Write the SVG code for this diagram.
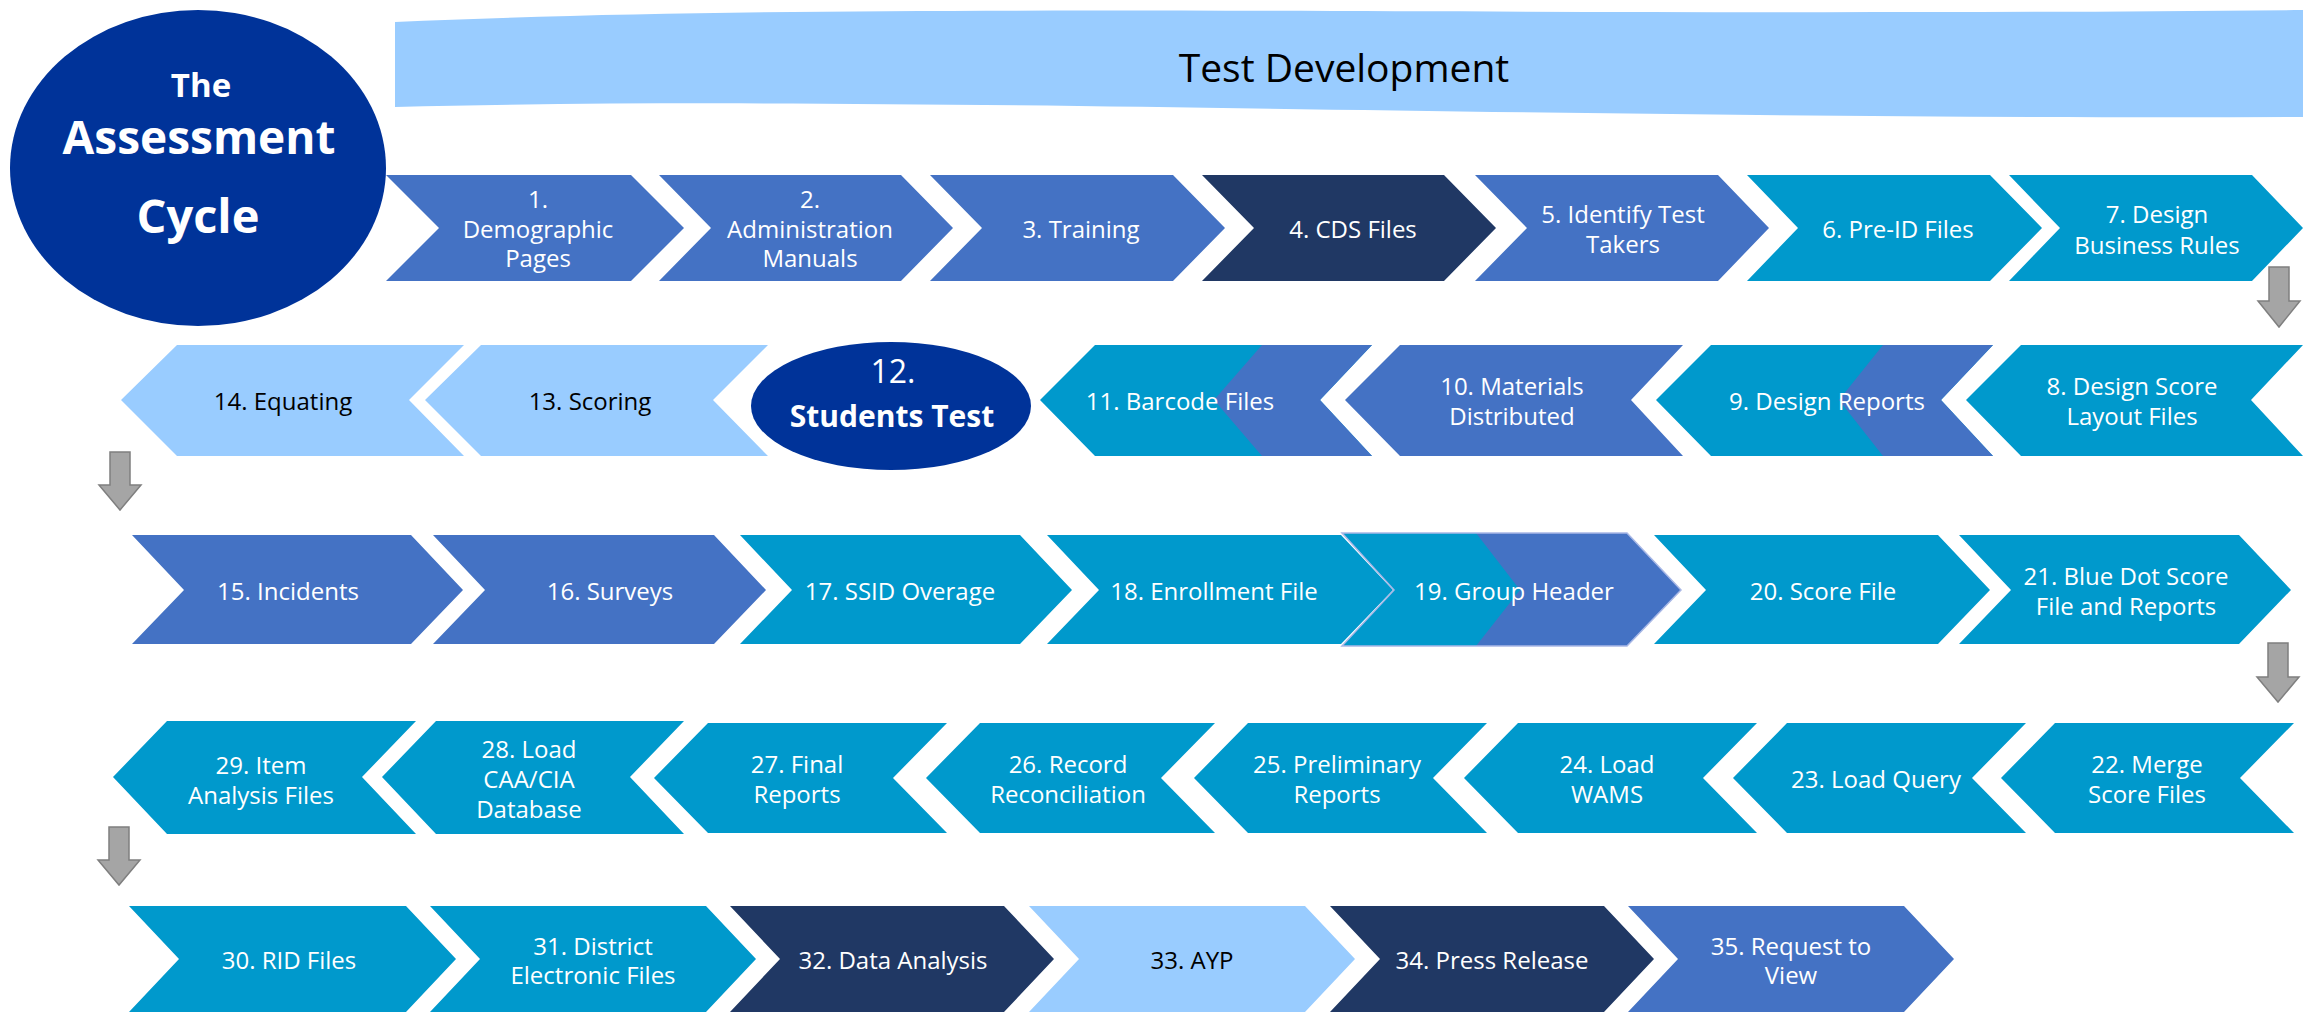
<svg xmlns="http://www.w3.org/2000/svg" width="2303" height="1014" viewBox="0 0 2303 1014">
<style>
.blue{fill:#4472C4}
.teal{fill:#0099CC}
.navy{fill:#203864}
.light{fill:#99CCFF}
.circ{fill:#003399}
.t{font-family:"Open Sans","Noto Sans","DejaVu Sans",sans-serif;font-size:24px;text-anchor:middle;dominant-baseline:central;fill:#FFFFFF}
.dk{fill:#000000}
.title{font-family:"Open Sans","Noto Sans","DejaVu Sans",sans-serif;font-weight:bold;text-anchor:middle;fill:#FFFFFF}
.arrow{fill:#A5A5A5;stroke:#7F7F7F;stroke-width:1.5}
</style>
<rect width="2303" height="1014" fill="#FFFFFF"/>

<g id="banner">
<path class="light" d="M395,22 C900,0 1500,18 2303,10 L2303,117 C1500,120 900,94 395,107 Z"/>
<text x="1344" y="66" style="font-family:'Open Sans','Noto Sans',sans-serif;font-size:39px;text-anchor:middle;dominant-baseline:central;fill:#000">Test Development</text>
</g>

<g id="title">
<ellipse class="circ" cx="198" cy="168" rx="188" ry="158"/>
<text class="title" x="201" y="97" font-size="33">The</text>
<text class="title" x="199" y="154" font-size="46">Assessment</text>
<text class="title" x="198" y="233" font-size="47">Cycle</text>
</g>

<!-- Row 1 -->
<g id="n1"><polygon class="blue" points="386,175 631,175 684,228 631,281 386,281 439,228"/>
<text class="t"><tspan x="538" y="198">1.</tspan><tspan x="538" y="228">Demographic</tspan><tspan x="538" y="257">Pages</tspan></text></g>
<g id="n2"><polygon class="blue" points="659,175 901,175 953,228 901,281 659,281 711,228"/>
<text class="t"><tspan x="810" y="198">2.</tspan><tspan x="810" y="228">Administration</tspan><tspan x="810" y="257">Manuals</tspan></text></g>
<g id="n3"><polygon class="blue" points="930,175 1173,175 1225,228 1173,281 930,281 982,228"/>
<text class="t" x="1081" y="228">3. Training</text></g>
<g id="n4"><polygon class="navy" points="1202,175 1444,175 1496,228 1444,281 1202,281 1254,228"/>
<text class="t" x="1353" y="228">4. CDS Files</text></g>
<g id="n5"><polygon class="blue" points="1475,175 1718,175 1769,228 1718,281 1475,281 1527,228"/>
<text class="t"><tspan x="1623" y="213">5. Identify Test</tspan><tspan x="1623" y="243">Takers</tspan></text></g>
<g id="n6"><polygon class="teal" points="1747,175 1990,175 2042,228 1990,281 1747,281 1798,228"/>
<text class="t" x="1898" y="228">6. Pre-ID Files</text></g>
<g id="n7"><polygon class="teal" points="2009,175 2252,175 2303,228 2252,281 2009,281 2060,228"/>
<text class="t"><tspan x="2157" y="213">7. Design</tspan><tspan x="2157" y="244">Business Rules</tspan></text></g>

<!-- Row 2 -->
<g id="n8"><polygon class="teal" points="2021,345 2303,345 2251,400 2303,456 2021,456 1966,400"/>
<text class="t"><tspan x="2132" y="385">8. Design Score</tspan><tspan x="2132" y="415">Layout Files</tspan></text></g>
<g id="n9"><polygon class="teal" points="1711,345 1993,345 1941,400 1993,456 1711,456 1656,400"/>
<polygon class="blue" points="1883,345 1993,345 1941,400 1993,456 1883,456 1839,400"/>
<text class="t" x="1827" y="400">9. Design Reports</text></g>
<g id="n10"><polygon class="blue" points="1400,345 1683,345 1631,400 1683,456 1400,456 1345,400"/>
<text class="t"><tspan x="1512" y="385">10. Materials</tspan><tspan x="1512" y="415">Distributed</tspan></text></g>
<g id="n11"><polygon class="teal" points="1095,345 1372,345 1320,400 1372,456 1095,456 1040,400"/>
<polygon class="blue" points="1262,345 1372,345 1320,400 1372,456 1262,456 1214,400"/>
<text class="t" x="1180" y="400">11. Barcode Files</text></g>
<g id="n12"><ellipse class="circ" cx="891" cy="406" rx="140" ry="64"/>
<text x="893" y="383" style="font-family:'Open Sans','Noto Sans',sans-serif;font-size:32px;text-anchor:middle;fill:#fff">12.</text>
<text class="title" x="892" y="427" font-size="30">Students Test</text></g>
<g id="n13"><polygon class="light" points="481,345 768,345 713,400 768,456 481,456 425,400"/>
<text class="t dk" x="590" y="400">13. Scoring</text></g>
<g id="n14"><polygon class="light" points="177,345 464,345 409,400 464,456 177,456 121,400"/>
<text class="t dk" x="283" y="400">14. Equating</text></g>

<!-- Row 3 -->
<g id="n15"><polygon class="blue" points="132,535 411,535 463,590 411,644 132,644 184,590"/>
<text class="t" x="288" y="590">15. Incidents</text></g>
<g id="n16"><polygon class="blue" points="433,535 714,535 766,590 714,644 433,644 485,590"/>
<text class="t" x="610" y="590">16. Surveys</text></g>
<g id="n17"><polygon class="teal" points="740,535 1020,535 1072,590 1020,644 740,644 792,590"/>
<text class="t" x="900" y="590">17. SSID Overage</text></g>
<g id="n18"><polygon class="teal" points="1047,535 1341,535 1393,590 1341,644 1047,644 1099,590"/>
<text class="t" x="1214" y="590">18. Enrollment File</text></g>
<g id="n19"><polygon class="teal" points="1342,533 1627,533 1681,590 1627,646 1342,646 1394,590"/>
<polygon class="blue" points="1476,533 1627,533 1681,590 1627,646 1476,646 1520,590"/>
<polygon points="1342,533 1627,533 1681,590 1627,646 1342,646 1394,590" fill="none" stroke="#A9B8E6" stroke-width="1.5"/>
<text class="t" x="1514" y="590">19. Group Header</text></g>
<g id="n20"><polygon class="teal" points="1654,535 1938,535 1990,590 1938,644 1654,644 1706,590"/>
<text class="t" x="1823" y="590">20. Score File</text></g>
<g id="n21"><polygon class="teal" points="1959,535 2239,535 2291,590 2239,644 1959,644 2011,590"/>
<text class="t"><tspan x="2126" y="575">21. Blue Dot Score</tspan><tspan x="2126" y="605">File and Reports</tspan></text></g>

<!-- Row 4 -->
<g id="n22"><polygon class="teal" points="2055,723 2294,723 2240,778 2294,833 2055,833 2001,778"/>
<text class="t"><tspan x="2147" y="763">22. Merge</tspan><tspan x="2147" y="793">Score Files</tspan></text></g>
<g id="n23"><polygon class="teal" points="1787,723 2026,723 1972,778 2026,833 1787,833 1733,778"/>
<text class="t" x="1876" y="778">23. Load Query</text></g>
<g id="n24"><polygon class="teal" points="1518,723 1757,723 1703,778 1757,833 1518,833 1464,778"/>
<text class="t"><tspan x="1607" y="763">24. Load</tspan><tspan x="1607" y="793">WAMS</tspan></text></g>
<g id="n25"><polygon class="teal" points="1248,723 1487,723 1433,778 1487,833 1248,833 1194,778"/>
<text class="t"><tspan x="1337" y="763">25. Preliminary</tspan><tspan x="1337" y="793">Reports</tspan></text></g>
<g id="n26"><polygon class="teal" points="980,723 1215,723 1161,778 1215,833 980,833 926,778"/>
<text class="t"><tspan x="1068" y="763">26. Record</tspan><tspan x="1068" y="793">Reconciliation</tspan></text></g>
<g id="n27"><polygon class="teal" points="708,723 947,723 893,778 947,833 708,833 654,778"/>
<text class="t"><tspan x="797" y="763">27. Final</tspan><tspan x="797" y="793">Reports</tspan></text></g>
<g id="n28"><polygon class="teal" points="436,721 684,721 630,777 684,834 436,834 382,777"/>
<text class="t"><tspan x="529" y="748">28. Load</tspan><tspan x="529" y="778">CAA/CIA</tspan><tspan x="529" y="808">Database</tspan></text></g>
<g id="n29"><polygon class="teal" points="167,721 416,721 362,777 416,834 167,834 113,777"/>
<text class="t"><tspan x="261" y="764">29. Item</tspan><tspan x="261" y="794">Analysis Files</tspan></text></g>

<!-- Row 5 -->
<g id="n30"><polygon class="teal" points="129,906 406,906 456,959 406,1012 129,1012 179,959"/>
<text class="t" x="289" y="959">30. RID Files</text></g>
<g id="n31"><polygon class="teal" points="430,906 706,906 756,959 706,1012 430,1012 480,959"/>
<text class="t"><tspan x="593" y="945">31. District</tspan><tspan x="593" y="974">Electronic Files</tspan></text></g>
<g id="n32"><polygon class="navy" points="730,906 1004,906 1054,959 1004,1012 730,1012 780,959"/>
<text class="t" x="893" y="959">32. Data Analysis</text></g>
<g id="n33"><polygon class="light" points="1029,906 1305,906 1355,959 1305,1012 1029,1012 1079,959"/>
<text class="t dk" x="1192" y="959">33. AYP</text></g>
<g id="n34"><polygon class="navy" points="1330,906 1604,906 1654,959 1604,1012 1330,1012 1380,959"/>
<text class="t" x="1492" y="959">34. Press Release</text></g>
<g id="n35"><polygon class="blue" points="1628,906 1904,906 1954,959 1904,1012 1628,1012 1678,959"/>
<text class="t"><tspan x="1791" y="945">35. Request to</tspan><tspan x="1791" y="974">View</tspan></text></g>

<g id="connectors">
<path class="arrow" d="M2269,267 h20 v34 h11 l-21,26 l-21,-26 h11 z"/>
<path class="arrow" d="M110,452 h20 v33 h11 l-21,25 l-21,-25 h11 z"/>
<path class="arrow" d="M2268,643 h20 v34 h11 l-21,25 l-21,-25 h11 z"/>
<path class="arrow" d="M109,827 h20 v33 h11 l-21,25 l-21,-25 h11 z"/>
</g>
</svg>
